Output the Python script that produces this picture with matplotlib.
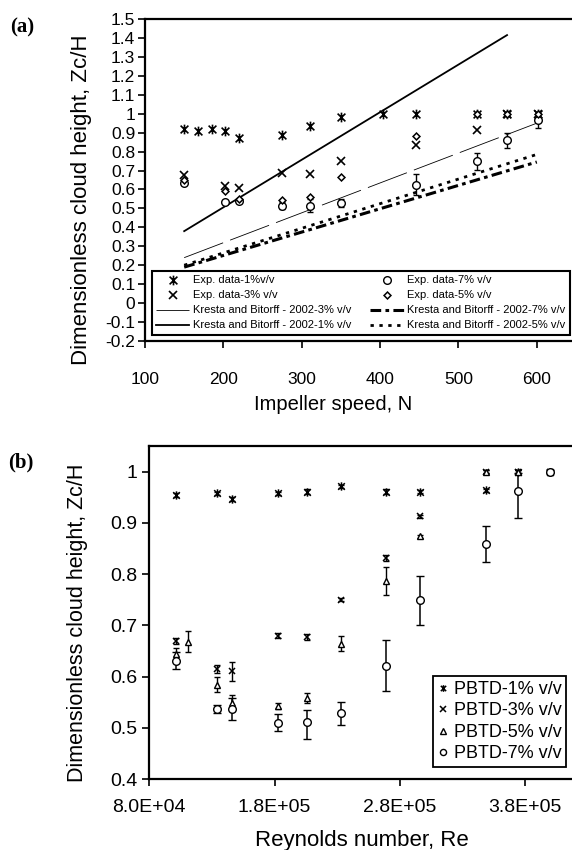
import matplotlib
matplotlib.use('Agg')
import matplotlib.pyplot as plt
from matplotlib.path import Path

plt.rcParams['font.family'] = ['Liberation Sans', 'DejaVu Sans']

## panel (a) data - impeller speed
n_1 = [150, 168, 185, 202, 220, 275, 310, 350, 404, 446, 524, 562, 602]
a_1 = [0.92, 0.91, 0.92, 0.91, 0.87, 0.89, 0.935, 0.985, 1.0, 1.0, 1.0, 1.0, 1.0]
n_x = [150, 202, 220, 275, 310, 350, 446, 524, 562, 602]
a_3 = [0.675, 0.62, 0.61, 0.685, 0.68, 0.75, 0.835, 0.915, 1.0, 1.0]
a_5 = [0.65, 0.59, 0.55, 0.545, 0.56, 0.665, 0.88, 1.0, 1.0, 1.0]
a_7 = [0.635, 0.535, 0.54, 0.515, 0.515, 0.53, 0.625, 0.75, 0.86, 0.965]
a_7err = [0.01, 0.01, 0.01, 0.02, 0.035, 0.02, 0.055, 0.045, 0.04, 0.04]
# Kresta and Bitorff 2002 lines
k_n = [150, 600]
k_n1 = [150, 562]
k_1 = [0.38, 1.415]
k_3 = [0.24, 0.95]
k_5 = [0.20, 0.785]
k_7 = [0.19, 0.745]

## panel (b) data - Reynolds number
re = [1.01e5, 1.34e5, 1.46e5, 1.83e5, 2.06e5, 2.33e5, 2.69e5, 2.96e5, 3.49e5, 3.74e5, 4.0e5]
b_1 = [0.954, 0.958, 0.947, 0.958, 0.961, 0.971, 0.961, 0.961, 0.964, 1.0, 1.0]
b_1err = [0.004, 0.003, 0.004, 0.003, 0.005, 0.003, 0.005, 0.003, 0.003, 0.003, 0.003]
b_3 = [0.670, 0.615, 0.610, 0.680, 0.678, 0.750, 0.832, 0.913, 1.0, 1.0, 1.0]
b_3err = [0.006, 0.008, 0.018, 0.005, 0.006, 0.003, 0.006, 0.003, 0.003, 0.003, 0.003]
re_5 = [1.01e5, 1.11e5, 1.34e5, 1.46e5, 1.83e5, 2.06e5, 2.33e5, 2.69e5, 2.96e5, 3.49e5, 3.74e5, 4.0e5]
b_5 = [0.644, 0.668, 0.584, 0.548, 0.543, 0.558, 0.664, 0.786, 0.874, 1.0, 1.0, 1.0]
b_5err = [0.012, 0.02, 0.015, 0.016, 0.006, 0.009, 0.015, 0.027, 0.003, 0.003, 0.003, 0.003]
b_7 = [0.631, 0.536, 0.537, 0.510, 0.512, 0.528, 0.621, 0.749, 0.858, 0.962, 1.0]
b_7lo = [0.016, 0.008, 0.022, 0.017, 0.033, 0.022, 0.05, 0.048, 0.035, 0.053, 0.003]
b_7hi = [0.016, 0.008, 0.022, 0.017, 0.022, 0.022, 0.05, 0.048, 0.035, 0.035, 0.003]

a_yticks = [-0.2, -0.1, 0, 0.1, 0.2, 0.3, 0.4, 0.5, 0.6, 0.7, 0.8, 0.9, 1.0, 1.1, 1.2, 1.3, 1.4, 1.5]
a_xticks = [100, 200, 300, 400, 500, 600]
b_yticks = [0.4, 0.5, 0.6, 0.7, 0.8, 0.9, 1.0]
b_xticks = [8e4, 1.8e5, 2.8e5, 3.8e5]
b_xlabels = ['8.0E+04', '1.8E+05', '2.8E+05', '3.8E+05']

# x with a vertical bar through it
star = Path([(0, -1), (0, 1), (-0.8, -0.8), (0.8, 0.8), (-0.8, 0.8), (0.8, -0.8)],
            [Path.MOVETO, Path.LINETO] * 3)

fig = plt.figure(figsize=(5.72, 8.5), dpi=100)

#==================================================================
## (a)
ax = fig.add_axes([145/572, 1-341/850, 431/572, 322/850])
ax.errorbar(n_x, a_7, yerr=a_7err, fmt='none', ecolor='k', elinewidth=1, capsize=2.5)
p1, = ax.plot(n_1, a_1, ls='none', marker=star, ms=7, mew=1.2, color='k', mfc='none')
p3, = ax.plot(n_x, a_3, ls='none', marker='x', ms=5.5, mew=1.2, color='k')
l3, = ax.plot(k_n, k_3, color='k', lw=0.6, dashes=(50, 9))
l1, = ax.plot(k_n1, k_1, color='k', lw=1.3)
p7, = ax.plot(n_x, a_7, ls='none', marker='o', ms=5.5, mfc='white', mec='k', mew=1)
p5, = ax.plot(n_x, a_5, ls='none', marker='D', ms=3.5, mfc='white', mec='k', mew=1.1)
l7, = ax.plot(k_n, k_7, color='k', lw=2.2, dashes=(3.5, 1.4, 1.2, 1.4))
l5, = ax.plot(k_n, k_5, color='k', lw=2.0, dashes=(1.2, 2.0))

ax.set_xlim(100, 650)
ax.set_ylim(-0.2, 1.5)
ax.set_xticks(a_xticks)
ax.set_yticks(a_yticks)
ax.set_yticklabels(['%g' % round(v, 1) for v in a_yticks])
ax.tick_params(direction='out', length=5, width=1.2, labelsize=12.5)
ax.tick_params(axis='y', pad=2)
ax.tick_params(axis='x', pad=17)
for s in ['left', 'bottom', 'top']:
    ax.spines[s].set_linewidth(1.6)
ax.spines['right'].set_visible(False)
ax.set_ylabel('Dimensionless cloud height, Zc/H', fontsize=16)
ax.yaxis.set_label_coords(-0.123, 0.44)
ax.set_xlabel('Impeller speed, N', fontsize=14.5)
ax.xaxis.set_label_coords(0.436, -0.168)
leg = ax.legend([p1, p3, l3, l1, p7, p5, l7, l5],
                ['Exp. data-1%v/v', 'Exp. data-3% v/v', 'Kresta and Bitorff - 2002-3% v/v',
                 'Kresta and Bitorff - 2002-1% v/v', 'Exp. data-7% v/v', 'Exp. data-5% v/v',
                 'Kresta and Bitorff - 2002-7% v/v', 'Kresta and Bitorff - 2002-5% v/v'],
                ncol=2, loc='lower left', bbox_to_anchor=(0.0155, 0.019, 0.97, 0.2), mode='expand',
                fontsize=8, frameon=True, fancybox=False, edgecolor='k', framealpha=1,
                handlelength=3, labelspacing=0.45, borderpad=0.4, handletextpad=0.3, borderaxespad=0)
leg.get_frame().set_linewidth(1.5)
fig.text(0.018, 0.968, '(a)', fontsize=15, fontweight='bold', family='Liberation Serif', va='center')

#==================================================================
## (b)
bx = fig.add_axes([149.3/572, 1-779/850, 426/572, 333/850])
bx.errorbar(re, b_1, yerr=b_1err, fmt='none', ecolor='k', elinewidth=1, capsize=2.5)
bx.errorbar(re, b_3, yerr=b_3err, fmt='none', ecolor='k', elinewidth=1, capsize=2.5)
bx.errorbar(re_5, b_5, yerr=b_5err, fmt='none', ecolor='k', elinewidth=1, capsize=2.5)
bx.errorbar(re, b_7, yerr=[b_7lo, b_7hi], fmt='none', ecolor='k', elinewidth=1.1, capsize=3)
q1, = bx.plot(re, b_1, ls='none', marker=star, ms=6, mew=1.1, color='k', mfc='none')
q3, = bx.plot(re, b_3, ls='none', marker='x', ms=5, mew=1.1, color='k')
q5, = bx.plot(re_5, b_5, ls='none', marker='^', ms=5, mfc='white', mec='k', mew=1)
q7, = bx.plot(re, b_7, ls='none', marker='o', ms=5.5, mfc='white', mec='k', mew=1)

bx.set_xlim(8e4, 4.2e5)
bx.set_ylim(0.4, 1.05)
bx.set_xticks(b_xticks)
bx.set_xticklabels(b_xlabels)
bx.set_yticks(b_yticks)
bx.set_yticklabels(['%g' % v for v in b_yticks])
bx.tick_params(direction='out', length=5, width=1.2, labelsize=14)
bx.tick_params(axis='y', pad=3.5)
bx.tick_params(axis='x', pad=9.5)
for s in ['left', 'bottom', 'top']:
    bx.spines[s].set_linewidth(1.6)
bx.spines['right'].set_visible(False)
bx.set_ylabel('Dimensionless cloud height, Zc/H', fontsize=15.5)
bx.yaxis.set_label_coords(-0.144, 0.47)
bx.set_xlabel('Reynolds number, Re', fontsize=16)
bx.xaxis.set_label_coords(0.5, -0.152)
leg2 = bx.legend([q1, q3, q5, q7], ['PBTD-1% v/v', 'PBTD-3% v/v', 'PBTD-5% v/v', 'PBTD-7% v/v'],
                 loc='lower left', bbox_to_anchor=(0.666, 0.036), borderaxespad=0,
                 fontsize=13, frameon=True, fancybox=False, edgecolor='k', framealpha=1,
                 handlelength=0.6, handletextpad=0.3, labelspacing=0.25, borderpad=0.25,
                 markerscale=0.8)
leg2.get_frame().set_linewidth(1.3)
fig.text(0.015, 0.456, '(b)', fontsize=15, fontweight='bold', family='Liberation Serif', va='center')

fig.savefig('out.png', dpi=100)
